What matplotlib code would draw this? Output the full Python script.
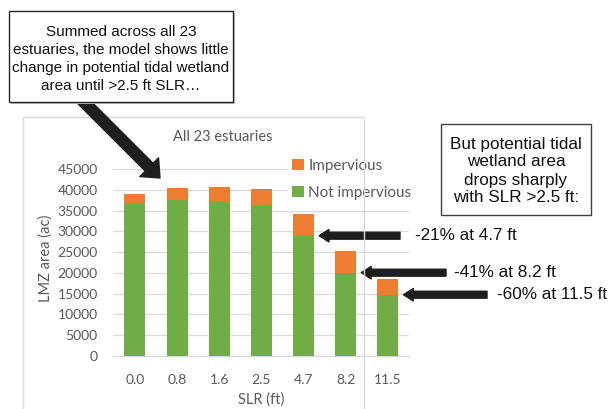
import numpy as np
import matplotlib
matplotlib.use('Agg')
import matplotlib.pyplot as plt
from matplotlib.patches import Rectangle

# values (acres)
slr_labels = ['0.0', '0.8', '1.6', '2.5', '4.7', '8.2', '11.5']
not_impervious = [36500, 37550, 37050, 36000, 28950, 20050, 14750]
total_area = [39000, 40450, 40750, 40250, 34100, 25250, 18450]
impervious = [t - n for t, n in zip(total_area, not_impervious)]

# callout arrows: bar index, label, tail x (px), label x (px)
callout_idx = [4, 5, 6]
callout_text = ['-21% at 4.7 ft', '-41% at 8.2 ft', '-60% at 11.5 ft']
callout_tail_px = [400, 446, 487]
callout_text_px = [415, 454, 497]

green = '#70AD47'
orange = '#ED7D31'
grey_txt = '#595959'
grid_col = '#D9D9D9'
arrow_col = '#1E1E1E'

W, H = 609, 409
fig = plt.figure(figsize=(W / 100, H / 100), dpi=100)
fig.patch.set_facecolor('white')

# main plot area (pixels -> figure fraction)
ax = fig.add_axes([113 / W, 1 - 356 / H, 296 / W, 187 / H])
x = np.arange(len(slr_labels))
ax.bar(x, not_impervious, width=0.5, color=green, zorder=3, label='Not impervious')
ax.bar(x, impervious, width=0.5, bottom=not_impervious, color=orange, zorder=3, label='Impervious')

ax.set_xlim(-0.52, 6.5)
ax.set_ylim(0, 45000)
ax.set_yticks(np.arange(0, 45001, 5000))
ax.set_xticks(x)
ax.set_xticklabels(slr_labels)
ax.grid(axis='y', color=grid_col, linewidth=0.9, zorder=0)
for s in ['top', 'right', 'left']:
    ax.spines[s].set_visible(False)
ax.spines['bottom'].set_color(grid_col)
ax.spines['bottom'].set_linewidth(0.9)
ax.tick_params(length=0, labelsize=10, labelcolor=grey_txt)
ax.tick_params(axis='x', pad=13)
ax.tick_params(axis='y', pad=11)
for lbl in ax.get_xticklabels() + ax.get_yticklabels():
    lbl.set_family('Lato')

ax.set_xlabel('SLR (ft)', fontsize=10.5, color=grey_txt, family='Lato')
ax.set_ylabel('LMZ area (ac)', fontsize=10.5, color=grey_txt, family='Lato')
ax.xaxis.set_label_coords(0.5, -0.195)
ax.yaxis.set_label_coords(-0.205, 0.52)

handles, labels = ax.get_legend_handles_labels()
leg = ax.legend(handles[::-1], labels[::-1], loc='upper left',
                bbox_to_anchor=(280 / W, 1 - 147 / H), bbox_transform=fig.transFigure,
                frameon=True, fancybox=False, edgecolor='white', framealpha=1,
                handlelength=0.75, handleheight=0.75, handletextpad=0.3,
                labelspacing=0.85, borderpad=0.3,
                prop={'family': 'Lato', 'size': 11})
for t in leg.get_texts():
    t.set_color(grey_txt)

fig.text(223 / W, 1 - 137 / H, 'All 23 estuaries', ha='center', va='center',
         fontsize=10.5, color=grey_txt, family='Lato')

# arrows pointing at the green tops of the last three bars
for i, txt, tx, lx in zip(callout_idx, callout_text, callout_tail_px, callout_text_px):
    ax.annotate('', xy=(i + 0.37, not_impervious[i]), xycoords='data',
                xytext=(tx, not_impervious[i]), textcoords=('figure pixels', 'data'),
                arrowprops=dict(arrowstyle='simple,head_length=7,head_width=9,tail_width=5',
                                mutation_scale=1, color=arrow_col, shrinkA=0, shrinkB=0),
                annotation_clip=False)
    ax.annotate(txt, xy=(lx, not_impervious[i]), xycoords=('figure pixels', 'data'),
                ha='left', va='center', fontsize=12.3, color='#111111',
                family='Liberation Sans', annotation_clip=False)

# overlay in pixel coordinates for the text boxes and frame
ov = fig.add_axes([0, 0, 1, 1])
ov.set_xlim(0, W)
ov.set_ylim(H, 0)
ov.axis('off')
ov.patch.set_alpha(0)

ov.add_patch(Rectangle((23, 117), 341, 320, fill=False, edgecolor=grid_col, linewidth=1, zorder=0))

ov.annotate('', xy=(160, 178), xytext=(80, 98),
            arrowprops=dict(arrowstyle='simple,head_length=11,head_width=19,tail_width=8',
                            mutation_scale=1, color=arrow_col, shrinkA=0, shrinkB=0),
            zorder=1)

ov.add_patch(Rectangle((11, 13), 224, 91, facecolor='#BFBFBF', edgecolor='none', zorder=2))
ov.add_patch(Rectangle((9, 11), 224, 91, facecolor='white', edgecolor='#262626', linewidth=1, zorder=3))
ov.text(121, 59, 'Summed across all 23\nestuaries, the model shows little\n'
        'change in potential tidal wetland\narea until >2.5 ft SLR\u2026',
        ha='center', va='center', fontsize=11, linespacing=1.37,
        family='Liberation Sans', color='#111111', zorder=4)

ov.add_patch(Rectangle((441, 124), 150, 91, facecolor='white', edgecolor='#404040', linewidth=1, zorder=3))
ov.text(516, 171, 'But potential tidal\nwetland area\ndrops sharply\nwith SLR >2.5 ft:',
        ha='center', va='center', fontsize=12.3, linespacing=1.25,
        family='Liberation Sans', color='#111111', zorder=4)

fig.savefig('out.png', dpi=100)
